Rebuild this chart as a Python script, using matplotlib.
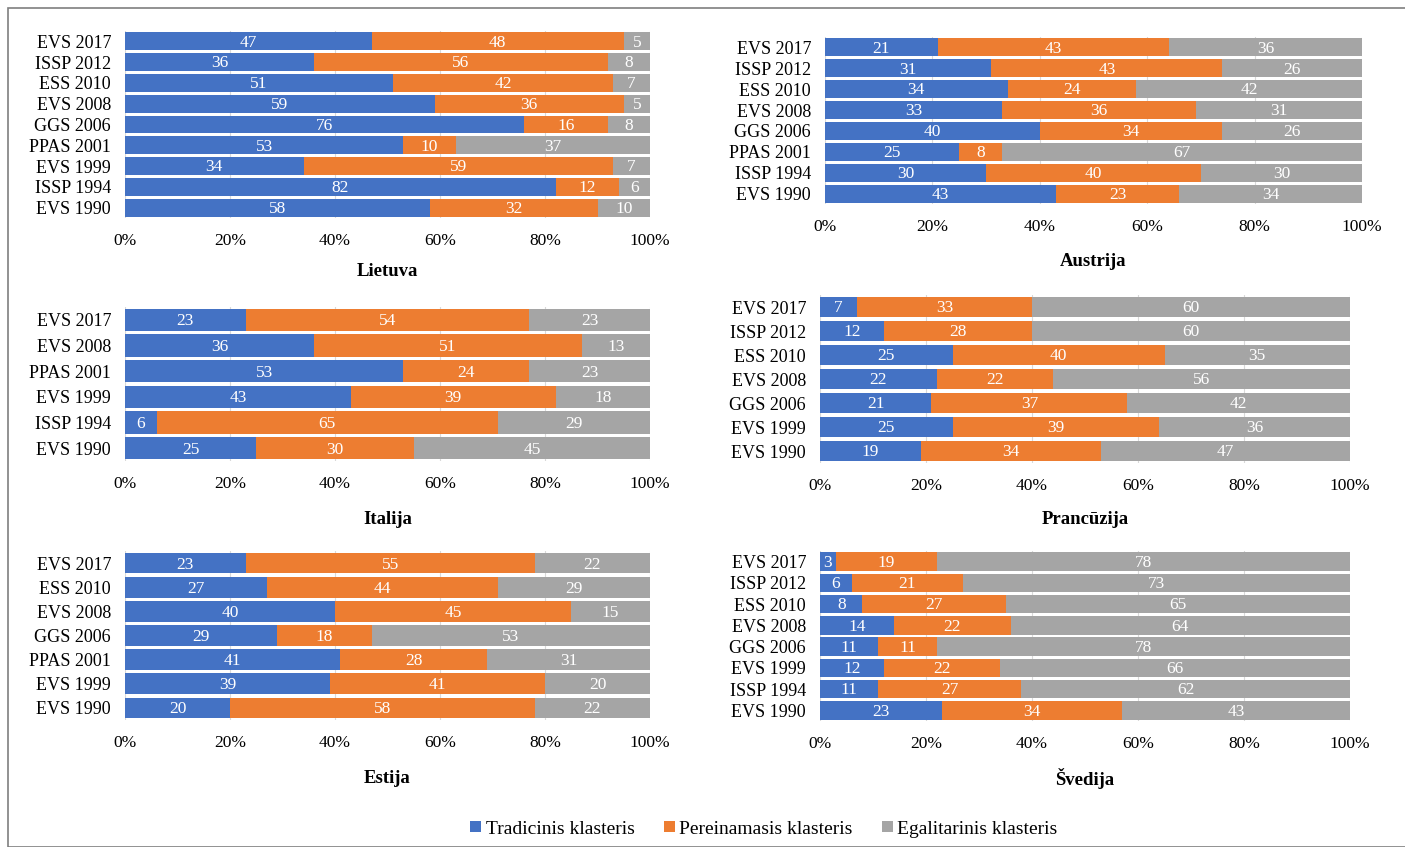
import matplotlib
matplotlib.use('Agg')
import matplotlib.pyplot as plt
from matplotlib.patches import Rectangle, Patch

plt.rcParams['font.family'] = ['Liberation Serif', 'DejaVu Serif']

W, H = 1405, 847

series_names = ['Tradicinis klasteris', 'Pereinamasis klasteris', 'Egalitarinis klasteris']
colors = ['#4472C4', '#ED7D31', '#A5A5A5']

# Lietuva
lt_labels = ['EVS 2017', 'ISSP 2012', 'ESS 2010', 'EVS 2008', 'GGS 2006', 'PPAS 2001', 'EVS 1999', 'ISSP 1994', 'EVS 1990']
lt_trad = [47, 36, 51, 59, 76, 53, 34, 82, 58]
lt_pere = [48, 56, 42, 36, 16, 10, 59, 12, 32]
lt_egal = [5, 8, 7, 5, 8, 37, 7, 6, 10]

# Austrija
at_labels = ['EVS 2017', 'ISSP 2012', 'ESS 2010', 'EVS 2008', 'GGS 2006', 'PPAS 2001', 'ISSP 1994', 'EVS 1990']
at_trad = [21, 31, 34, 33, 40, 25, 30, 43]
at_pere = [43, 43, 24, 36, 34, 8, 40, 23]
at_egal = [36, 26, 42, 31, 26, 67, 30, 34]

# Italija
it_labels = ['EVS 2017', 'EVS 2008', 'PPAS 2001', 'EVS 1999', 'ISSP 1994', 'EVS 1990']
it_trad = [23, 36, 53, 43, 6, 25]
it_pere = [54, 51, 24, 39, 65, 30]
it_egal = [23, 13, 23, 18, 29, 45]

# Prancuzija
fr_labels = ['EVS 2017', 'ISSP 2012', 'ESS 2010', 'EVS 2008', 'GGS 2006', 'EVS 1999', 'EVS 1990']
fr_trad = [7, 12, 25, 22, 21, 25, 19]
fr_pere = [33, 28, 40, 22, 37, 39, 34]
fr_egal = [60, 60, 35, 56, 42, 36, 47]

# Estija
ee_labels = ['EVS 2017', 'ESS 2010', 'EVS 2008', 'GGS 2006', 'PPAS 2001', 'EVS 1999', 'EVS 1990']
ee_trad = [23, 27, 40, 29, 41, 39, 20]
ee_pere = [55, 44, 45, 18, 28, 41, 58]
ee_egal = [22, 29, 15, 53, 31, 20, 22]

# Svedija
se_labels = ['EVS 2017', 'ISSP 2012', 'ESS 2010', 'EVS 2008', 'GGS 2006', 'EVS 1999', 'ISSP 1994', 'EVS 1990']
se_trad = [3, 6, 8, 14, 11, 12, 11, 23]
se_pere = [19, 21, 27, 22, 11, 22, 27, 34]
se_egal = [78, 73, 65, 64, 78, 66, 62, 43]

panels = [
    ('Lietuva', lt_labels, [lt_trad, lt_pere, lt_egal], (125, 650, 31, 218), 272),
    ('Austrija', at_labels, [at_trad, at_pere, at_egal], (825, 1362, 37, 204), 262),
    ('Italija', it_labels, [it_trad, it_pere, it_egal], (125, 650, 307, 461), 519),
    ('Prancūzija', fr_labels, [fr_trad, fr_pere, fr_egal], (820, 1350, 295, 463), 519),
    ('Estija', ee_labels, [ee_trad, ee_pere, ee_egal], (125, 650, 551, 720), 778),
    ('Švedija', se_labels, [se_trad, se_pere, se_egal], (820, 1350, 551, 721), 778),
]

fig = plt.figure(figsize=(W / 100, H / 100), dpi=100)

for title, labels, data, (x0, x1, y0, y1), ty in panels:
    ax = fig.add_axes([x0 / W, 1 - y1 / H, (x1 - x0) / W, (y1 - y0) / H])
    n = len(labels)
    ypos = list(range(n))
    left = [0] * n
    for vals, c in zip(data, colors):
        ax.barh(ypos, vals, left=left, height=0.86, color=c, zorder=2)
        for i, v in enumerate(vals):
            ax.text(left[i] + v / 2, i + 0.06, str(v), ha='center', va='center',
                    color='white', fontsize=12.5, zorder=3)
        left = [l + v for l, v in zip(left, vals)]
    ax.set_xlim(0, 100)
    ax.set_ylim(n - 0.5, -0.5)
    ax.set_yticks(ypos)
    ax.set_yticklabels(labels, fontsize=13)
    ax.set_xticks([0, 20, 40, 60, 80, 100])
    ax.set_xticklabels(['0%', '20%', '40%', '60%', '80%', '100%'], fontsize=12.5)
    ax.tick_params(axis='both', length=0)
    ax.tick_params(axis='x', pad=11)
    ax.tick_params(axis='y', pad=10)
    ax.grid(axis='x', color='#D9D9D9', linewidth=0.8, zorder=0)
    for s in ax.spines.values():
        s.set_visible(False)
    fig.text((x0 + x1) / 2 / W, 1 - ty / H, title, ha='center', va='center',
             fontsize=13.5, fontweight='bold')

handles = [Patch(facecolor=c, label=nm) for c, nm in zip(colors, series_names)]
fig.legend(handles=handles, loc='center', bbox_to_anchor=(764 / W, 1 - 829 / H),
           ncol=3, frameon=False, fontsize=14, handlelength=0.55, handleheight=0.55,
           handletextpad=0.25, columnspacing=1.5)

# outer frame
fig.patches.append(Rectangle((8 / W, 0), 1, 1 - 8 / H, transform=fig.transFigure,
                             fill=False, edgecolor='#7F7F7F', linewidth=1.2))

fig.savefig('out.png', dpi=100)
